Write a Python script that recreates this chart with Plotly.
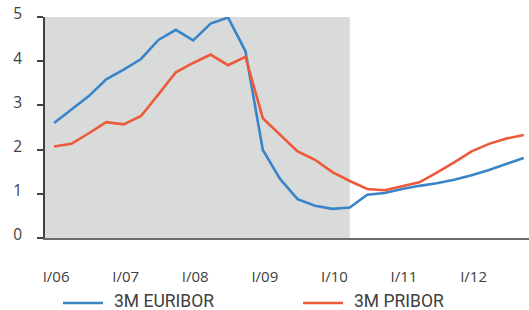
import plotly.graph_objects as go

quarters = ["I/06","II/06","III/06","IV/06","I/07","II/07","III/07","IV/07",
            "I/08","II/08","III/08","IV/08","I/09","II/09","III/09","IV/09",
            "I/10","II/10","III/10","IV/10","I/11","II/11","III/11","IV/11",
            "I/12","II/12","III/12","IV/12"]
euribor = [2.60, 2.90, 3.21, 3.59, 3.81, 4.05, 4.48, 4.71,
           4.47, 4.85, 4.99, 4.23, 1.99, 1.33, 0.88, 0.73,
           0.66, 0.69, 0.98, 1.02, 1.11, 1.18, 1.24, 1.32,
           1.42, 1.54, 1.67, 1.81]
pribor = [2.07, 2.13, 2.37, 2.62, 2.57, 2.76, 3.25, 3.75,
          3.96, 4.15, 3.91, 4.10, 2.71, 2.33, 1.96, 1.77,
          1.49, 1.29, 1.11, 1.08, 1.17, 1.26, 1.48, 1.71,
          1.96, 2.13, 2.25, 2.33]
tick_labels = ["I/06", "I/07", "I/08", "I/09", "I/10", "I/11", "I/12"]
series_names = ["3M EURIBOR", "3M PRIBOR"]
series_colors = ["#3a84c8", "#ec5a3a"]
shade_end = "II/10"  # last quarter of actual data (shaded)

idx = list(range(len(quarters)))
tick_idx = [quarters.index(t) for t in tick_labels]
shade_end_idx = quarters.index(shade_end)

W, H = 529, 310
ML, MR, MT, MB = 45, 0, 17, 72
x_range = [-0.52, 27.3]

fig = go.Figure()
for name, vals, col in zip(series_names, [euribor, pribor], series_colors):
    fig.add_trace(go.Scatter(x=idx, y=vals, mode="lines", name=name,
                             line=dict(color=col, width=2.6), showlegend=False,
                             hoverinfo="skip"))

fig.add_shape(type="rect", xref="x", yref="y", x0=x_range[0], x1=shade_end_idx,
              y0=0, y1=5, fillcolor="#d9dada", line=dict(width=0), layer="below")

# legend drawn below the plot (pixel positions converted to paper coords)
pw, ph = W - ML - MR, H - MT - MB
def px(xp):
    return (xp - ML) / pw
def py(yp):
    return (H - MB - yp) / ph

leg_starts = [63, 303]
leg_y = 303
for name, col, x0 in zip(series_names, series_colors, leg_starts):
    fig.add_shape(type="line", xref="paper", yref="paper",
                  x0=px(x0), x1=px(x0 + 40), y0=py(leg_y), y1=py(leg_y),
                  line=dict(color=col, width=2.6))
    fig.add_annotation(xref="paper", yref="paper", x=px(x0 + 50), y=py(leg_y - 2),
                       text=name, showarrow=False, xanchor="left", yanchor="middle",
                       borderpad=0, font=dict(family="Roboto", size=17.5, color="#404040"))

font = "Open Sans"
fig.update_layout(
    width=W, height=H,
    margin=dict(l=ML, r=MR, t=MT, b=MB, autoexpand=False),
    plot_bgcolor="white", paper_bgcolor="white",
    font=dict(family=font, size=15, color="#404040"),
    showlegend=False,
)
fig.update_xaxes(range=x_range, tickvals=tick_idx, ticktext=tick_labels,
                 showgrid=False, zeroline=False, showline=True, automargin=False,
                 linecolor="#6b6b6b", linewidth=1.5, ticks="",
                 ticklabelstandoff=24, ticklabelshift=2,
                 tickfont=dict(size=15, color="#404040"))
fig.update_yaxes(range=[0, 5], tickvals=[0, 1, 2, 3, 4, 5], showgrid=False,
                 zeroline=False, showline=True, linecolor="#404040", linewidth=1.5,
                 automargin=False,
                 ticks="outside", ticklen=6, tickcolor="#404040", tickwidth=1.5,
                 ticklabelstandoff=12, ticklabelshift=-3,
                 tickfont=dict(size=15.5, color="#404040"))

fig.write_html("out.html", config={"displayModeBar": False},
               post_script="document.body.style.margin='0';")
